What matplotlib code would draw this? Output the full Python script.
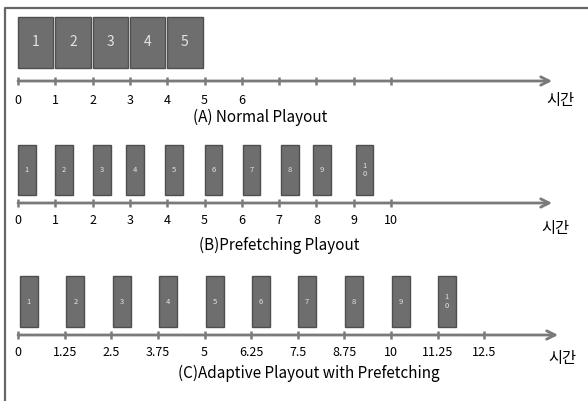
import matplotlib
matplotlib.use("Agg")
import matplotlib.pyplot as plt

plt.rcParams['font.family'] = ['Noto Sans CJK KR', 'DejaVu Sans']

# data
a_starts = [0, 1, 2, 3, 4]
a_labels = ["1", "2", "3", "4", "5"]
a_ticks = list(range(11))
a_ticklabels = ["0", "1", "2", "3", "4", "5", "6"]

b_starts = [0, 1, 2, 2.9, 3.95, 5, 6.02, 7.05, 7.9, 9.05]
b_labels = ["1", "2", "3", "4", "5", "6", "7", "8", "9", "1\n0"]
b_ticks = list(range(11))
b_ticklabels = ["0", "1", "2", "3", "4", "5", "6", "7", "8", "9", "10"]

c_starts = [0.05, 1.3, 2.55, 3.78, 5.03, 6.27, 7.5, 8.77, 10.03, 11.26]
c_labels = ["1", "2", "3", "4", "5", "6", "7", "8", "9", "1\n0"]
c_ticks = [0, 1.25, 2.5, 3.75, 5, 6.25, 7.5, 8.75, 10, 11.25, 12.5]
c_ticklabels = ["0", "1.25", "2.5", "3.75", "5", "6.25", "7.5", "8.75", "10", "11.25", "12.5"]

captions = ["(A) Normal Playout", "(B)Prefetching Playout", "(C)Adaptive Playout with Prefetching"]

fig = plt.figure(figsize=(5.88, 4.01), dpi=100)
ax = fig.add_axes([0, 0, 1, 1])
ax.set_xlim(-18 / 37.3, (588 - 18) / 37.3)
ax.set_ylim(401, 0)
ax.axis('off')

box_fc = '#6e6e6e'
box_ec = '#4f4f4f'
line_c = '#7a7a7a'

# outer frame (left + top)
ax.plot([-13.5 / 37.3, -13.5 / 37.3, 20], [401, 8, 8], color='#666666', lw=1.6,
        solid_capstyle='butt', clip_on=False)

panels = [
    # starts, labels, width, box top, box bottom, axis y, ticks, ticklabels, label y, fs, arrow end, caption x/y, 시간 x/y
    (a_starts, a_labels, 0.95, 17, 68, 81, a_ticks, a_ticklabels, 100, 10, 14.32, 6.5, 117, 14.54, 100),
    (b_starts, b_labels, 0.48, 145, 195, 203, b_ticks, b_ticklabels, 220, 5.5, 14.32, 7.0, 245, 14.4, 228),
    (c_starts, c_labels, 0.48, 276, 327, 335, c_ticks, c_ticklabels, 353, 5.5, 14.48, 7.8, 373, 14.6, 358),
]

for i, (starts, labels, w, top, bot, ay, ticks, tlabels, ly, fs, aend, cx, cy, sx, sy) in enumerate(panels):
    ax.bar(starts, bot - top, bottom=top, width=w, align='edge',
           color=box_fc, edgecolor=box_ec, linewidth=1.0)
    for s, lab in zip(starts, labels):
        ax.text(s + w / 2, (top + bot) / 2, lab, ha='center', va='center',
                color='#e4e4e4', fontsize=fs, linespacing=1.05)
    # time axis with arrow
    ax.annotate('', xy=(aend, ay), xytext=(0, ay),
                arrowprops=dict(arrowstyle='->,head_length=0.6,head_width=0.3',
                                color=line_c, lw=2.0, shrinkA=0, shrinkB=0))
    ax.vlines(ticks, ay - 4, ay + 4, color=line_c, lw=1.8)
    for t, tl in zip(ticks, tlabels):
        ax.text(t, ly, tl, ha='center', va='center', fontsize=9, color='#000000')
    ax.text(cx, cy, captions[i], ha='center', va='center', fontsize=11, color='#000000')
    ax.text(sx, sy, '시간', ha='center', va='center', fontsize=11, color='#000000')

fig.savefig('out.png', dpi=100)
